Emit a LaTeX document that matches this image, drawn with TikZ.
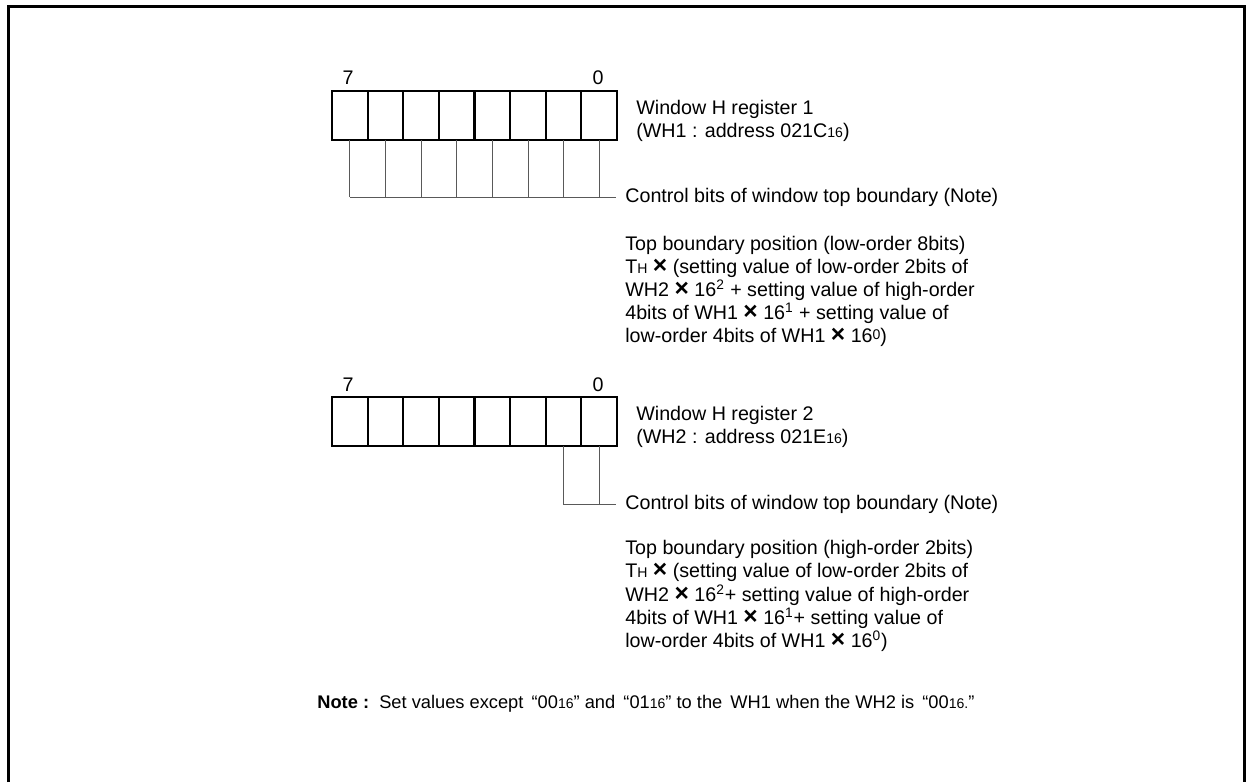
\documentclass[tikz,border=0pt]{standalone}
\usepackage{fontspec}
\setmainfont{Liberation Sans}
\newcommand{\hexsub}[1]{{\fontsize{8}{8}\selectfont #1}}
\newcommand{\tms}{{\fontsize{14}{14}\selectfont\textbf{×}}}

\begin{document}
\begin{tikzpicture}[x=0.02cm, y=-0.02cm,
    bitcell/.style={draw, line width=1.2pt, minimum width=0.7125cm, minimum height=0.98cm,
        inner sep=0pt, outer sep=0pt, anchor=north west},
    lead/.style={draw=black!65, line width=0.5pt},
    desc/.style={anchor=north west, inner sep=0pt, align=left,
        font=\fontsize{11.2}{13.2}\selectfont},
    bitnum/.style={inner sep=0pt, font=\fontsize{11.2}{13.2}\selectfont}]
    \useasboundingbox (0,0) rectangle (1257,782);

    % Outer frame (open at the bottom)
    \draw[line width=1.7pt] (8.5,782) -- (8.5,6.5) -- (1244,6.5) -- (1244,782);

    % Register WH1
    \foreach \b [count=\i from 0] in {7,...,0}
        \node[bitcell] (wha\b) at ({332+\i*35.625},91) {};
    \node[bitnum] (wha-msb) at (348,78) {7};
    \node[bitnum] (wha-lsb) at (598,78) {0};
    \node[desc] (wha-name) at (636,100)
        {Window H register 1\\(WH1 : address 021C\hexsub{16})};

    % Control bits of WH1 (all eight bits)
    \coordinate (wha-end) at (616,197);
    \foreach \b in {7,...,0}
        \draw[lead] (wha\b.south) -- (wha\b.south |- wha-end);
    \draw[lead] (wha7.south |- wha-end) -- (wha-end);
    \node[desc, anchor=west] (wha-ctrl) at (625,197)
        {Control bits of window top boundary (Note)};

    \node[desc] (wha-pos) at (625,235.5)
        {Top boundary position (low-order 8bits)\\
        T\hexsub{H} \tms{} (setting value of low-order 2bits of\\
        WH2 \tms{} 16\textsuperscript{2} + setting value of high-order\\
        4bits of WH1 \tms{} 16\textsuperscript{1} + setting value of\\
        low-order 4bits of WH1 \tms{} 16\raisebox{0.3ex}{\hexsub{0}})};

    % Register WH2
    \foreach \b [count=\i from 0] in {7,...,0}
        \node[bitcell] (whb\b) at ({332+\i*35.625},397) {};
    \node[bitnum] (whb-msb) at (348,385) {7};
    \node[bitnum] (whb-lsb) at (598,385) {0};
    \node[desc] (whb-name) at (636,406)
        {Window H register 2\\(WH2 : address 021E\hexsub{16})};

    % Control bits of WH2 (low-order 2 bits only)
    \coordinate (whb-end) at (616,504);
    \draw[lead] (whb1.south) -- (whb1.south |- whb-end) -- (whb-end);
    \draw[lead] (whb0.south) -- (whb0.south |- whb-end);
    \node[desc, anchor=west] (whb-ctrl) at (625,504)
        {Control bits of window top boundary (Note)};

    \node[desc] (whb-pos) at (625,540)
        {Top boundary position (high-order 2bits)\\
        T\hexsub{H} \tms{} (setting value of low-order 2bits of\\
        WH2 \tms{} 16\textsuperscript{2}+ setting value of high-order\\
        4bits of WH1 \tms{} 16\textsuperscript{1}+ setting value of\\
        low-order 4bits of WH1 \tms{} 16\textsuperscript{0})};

    % Note
    \node[desc, anchor=base west, font=\fontsize{10.4}{12}\selectfont] (note) at (317,708)
        {\textbf{Note :}\ \ Set values except\, “00\hexsub{16}” and\, “01\hexsub{16}” to the\, WH1 when the WH2 is\, “00\hexsub{16.}”};
\end{tikzpicture}
\end{document}
